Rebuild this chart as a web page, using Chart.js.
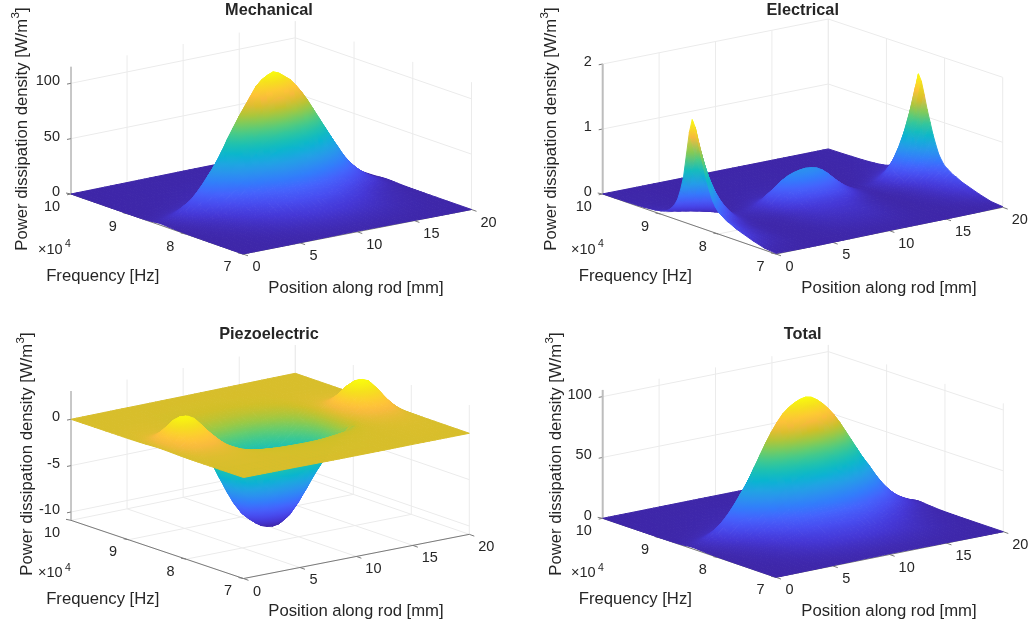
<!DOCTYPE html>
<html><head><meta charset="utf-8">
<style>html,body{margin:0;padding:0;background:#fff}canvas{position:absolute}</style>
<script src="https://cdn.jsdelivr.net/npm/chart.js@4"></script></head>
<body>
<script>
// ---------- data ----------
const positions = [0,.5,1,1.5,2,2.5,3,3.5,4,4.5,5,5.5,6,6.5,7,7.5,8,8.5,9,9.5,10,10.5,11,11.5,12,12.5,13,13.5,14,14.5,15,15.5,16,16.5,17,17.5,18,18.5,19,19.5,20];
const frequencies = [7,7.2,7.4,7.6,7.7,7.8,7.85,7.9,7.95,8,8.05,8.1,8.15,8.2,8.25,8.3,8.35,8.4,8.45,8.5,8.55,8.6,8.65,8.7,8.75,8.8,8.85,8.9,8.95,9,9.05,9.1,9.2,9.3,9.4,9.6,9.8,10];

const mechanicalAlongRod = [1.4,2.9,4.6,6.9,10,14,18,24,31,39,47,56,66,75,84,92,100,108,113,116,118,116,112,108,102,95,87,78,69,60,51,42,33,26,20,15,11,7.5,4.8,2.4,1.1];
const mechanicalResponse = [.005,.015,.035,.07,.09,.12,.14,.16,.18,.21,.25,.3,.37,.46,.57,.69,.82,.94,1,.88,.66,.44,.3,.2,.14,.1,.07,.05,.04,.03,.025,.02,.014,.01,.007,.004,.002,.001];

const electricalAlongRod = [1.62,1.2,.86,.6,.4,.25,.12,.06,.03,.03,.04,.06,.1,.17,.26,.33,.41,.46,.49,.51,.52,.51,.49,.44,.37,.28,.2,.13,.08,.04,.02,.02,.05,.08,.15,.25,.4,.6,.86,1.2,1.62];
const electricalResponse = [.006,.018,.05,.09,.11,.14,.15,.17,.19,.21,.25,.3,.38,.47,.58,.69,.82,.94,1,.87,.65,.43,.3,.2,.14,.1,.07,.05,.04,.03,.025,.02,.014,.01,.007,.004,.002,.001];

const piezoelectricDipAlongRod = [0,0,0,0,0,0,0,0,0,-.3,-1.9,-3.9,-5.4,-6.8,-8,-8.9,-9.5,-10,-10.4,-10.6,-10.7,-10.6,-10.2,-9.4,-8.3,-7.1,-6,-5,-3.9,-2.6,-1.2,-.2,0,0,0,0,0,0,0,0,0];
const piezoelectricDipResponse = [.002,.003,.005,.01,.015,.03,.04,.06,.1,.16,.27,.42,.57,.7,.8,.87,.93,.97,1,.99,.95,.88,.78,.66,.55,.45,.37,.3,.24,.18,.13,.1,.05,.03,.015,.005,.002,.001];
const piezoelectricBumpAlongRod = [.1,1.2,2.2,2.8,3,2.95,2.6,1.9,1.1,.4,.1,0,0,0,0,0,0,0,0,0,0,0,0,0,0,0,0,0,0,0,.05,.4,1.2,2.2,2.8,3.1,3.15,2.9,2.2,1.2,.1];
const piezoelectricBumpResponse = [0,.005,.01,.02,.03,.05,.07,.09,.12,.16,.22,.3,.4,.5,.62,.74,.85,.95,1,.97,.86,.7,.54,.4,.28,.2,.14,.1,.07,.05,.04,.03,.02,.012,.008,.003,.001,0];

const totalAlongRod = [1.3,2.7,4.5,7,10,14,19,25,32,40,48,57,66,75,83,90,96,100,103,105,106,105,102,98,93,87,80,72,64,56,48,41,33,26,20,15,11,8,5.5,3.5,2];
const totalResponse = [.006,.017,.04,.08,.1,.13,.15,.17,.2,.23,.27,.32,.39,.48,.59,.7,.83,.94,1,.89,.68,.46,.32,.22,.15,.11,.08,.06,.045,.035,.028,.022,.016,.011,.008,.004,.002,.001];

const positionTicks = [0,5,10,15,20];
const frequencyTicks = [7,8,9,10];
const frequencyTickLabels = ['7','8','9','10'];
const mechanicalZTicks = [0,50,100];
const electricalZTicks = [0,1,2];
const piezoelectricZTicks = [-10,-5,0];
const totalZTicks = [0,50,100];

// parula colour map stops
const parula = [[.2422,.1504,.6603],[.2706,.2147,.8364],[.2813,.3006,.9414],[.2699,.3892,.9906],[.1963,.4847,.9892],[.1687,.5703,.9359],[.1248,.6459,.8883],[.0297,.7082,.8163],[.0964,.75,.712],[.2161,.7843,.5923],[.3909,.8029,.4354],[.6174,.7876,.2612],[.8203,.7498,.1535],[.9728,.7298,.2394],[.997,.7659,.2199],[.9892,.8086,.1816],[.961,.8779,.1146],[.9763,.9831,.0538]];
const parulaAt = [0,4,8,12,16,20,24,28,32,36,40,44,48,52,54,56,59,63].map(i=>i/63);
function colour(t){
  t=Math.max(0,Math.min(1,t)); let i=0;
  while(i<parulaAt.length-2 && t>parulaAt[i+1]) i++;
  const a=(t-parulaAt[i])/(parulaAt[i+1]-parulaAt[i]);
  const c=parula[i].map((v,k)=>Math.round(255*(v+(parula[i+1][k]-v)*a)));
  return `rgb(${c[0]},${c[1]},${c[2]})`;
}

const W=516, H=314;
const panels = [
 {name:'Mechanical',ox:0,oy:0,parts:[[mechanicalAlongRod,mechanicalResponse]],zTicks:mechanicalZTicks,zMin:0,zTop:115,k:1.107,
  F:[243,254],R:[471.5,209.5],L:[71,194],B:[295.3,148.5],axisCol:'#9a9a9a',axisW:1,
  title:[269,10],fl:[102.7,275.7],pl:[356,287],zl:[21.7,129],e:[55,249]},
 {name:'Electrical',ox:515,oy:0,parts:[[electricalAlongRod,electricalResponse]],zTicks:electricalZTicks,zMin:0,zTop:2,k:65,
  F:[776,254],R:[1002.7,207.3],L:[602.7,194],B:[828.3,149],axisCol:'#bdbdbd',axisW:2,
  title:[802.7,10],fl:[635.3,275.7],pl:[889,287],zl:[550,129],e:[588,249]},
 {name:'Piezoelectric',ox:0,oy:314,parts:[[piezoelectricDipAlongRod,piezoelectricDipResponse],[piezoelectricBumpAlongRod,piezoelectricBumpResponse]],zTicks:piezoelectricZTicks,zMin:-10.9,zTop:3.05,k:9.27,
  F:[243.5,477.5],R:[469.3,433.3],L:[71,419.3],B:[295.3,373.3],axisCol:'#9a9a9a',axisW:1,
  title:[269,334],fl:[102.7,598.7],pl:[356,610.3],zl:[26,454],e:[55,572.7]},
 {name:'Total',ox:515,oy:314,parts:[[totalAlongRod,totalResponse]],zTicks:totalZTicks,zMin:0,zTop:105.5,k:1.217,
  F:[776,577.3],R:[1003.3,531.7],L:[602.7,518.3],B:[828.3,473.3],axisCol:'#bdbdbd',axisW:2,
  title:[802.7,334],fl:[635.3,598.7],pl:[889,610.3],zl:[555,454],e:[588,572.7]}
];

function projector(p){
  return (pos,fr,z)=>{
    const u=pos/20,v=(fr-7)/3;
    const x=(1-v)*((1-u)*p.F[0]+u*p.R[0])+v*((1-u)*p.L[0]+u*p.B[0]);
    const y=(1-v)*((1-u)*p.F[1]+u*p.R[1])+v*((1-u)*p.L[1]+u*p.B[1]);
    return {x:x-p.ox,y:y-p.oy-p.k*z};
  };
}
function seg(pts,col,w){return {data:pts,borderColor:col,borderWidth:w,fill:false,pointRadius:0,showLine:true,borderJoinStyle:'miter'};}

function textPlugin(p){return {id:'panelText',afterDraw(chart){
  const ctx=chart.ctx,xs=chart.scales.x,ys=chart.scales.y,proj=projector(p);
  const put=(pt)=>[xs.getPixelForValue(pt.x),ys.getPixelForValue(pt.y)];
  const tf='"Liberation Sans",Arial,sans-serif';
  ctx.save();ctx.fillStyle='#262626';ctx.textBaseline='middle';
  ctx.font='14.5px '+tf;ctx.textAlign='center';
  positionTicks.forEach(v=>{const [a,b]=put(proj(v,7,p.zMin));
    ctx.fillText(String(v),a+(v>=10?17:13.5),b+13);});
  frequencyTicks.forEach((v,i)=>{const [a,b]=put(proj(0,v,p.zMin));
    ctx.fillText(frequencyTickLabels[i],a-(v==10?19:15.5),b+12.5);});
  ctx.textAlign='right';
  p.zTicks.forEach(v=>{const [a,b]=put(proj(0,10,v));ctx.fillText(String(v),a-11,b-2);});
  // exponent
  const ex=p.e[0]-p.ox,ey=p.e[1]-p.oy;
  ctx.textAlign='left';ctx.fillText('\u00d710',ex-17,ey+.5);
  ctx.font='10.5px '+tf;ctx.fillText('4',ex+10,ey-4.5);
  // axis labels
  ctx.font='16.7px '+tf;ctx.textAlign='center';
  ctx.fillText('Frequency [Hz]',p.fl[0]-p.ox,p.fl[1]-p.oy+1);
  ctx.fillText('Position along rod [mm]',p.pl[0]-p.ox,p.pl[1]-p.oy+1);
  ctx.save();ctx.translate(p.zl[0]-p.ox+1,p.zl[1]-p.oy);ctx.rotate(-Math.PI/2);
  const s='Power dissipation density [W/m',w=ctx.measureText(s).width,w3=ctx.measureText(']').width;
  ctx.textAlign='left';const st=-(w+w3+7)/2;
  ctx.fillText(s,st,0);ctx.fillText(']',st+w+7,0);
  ctx.font='11.5px '+tf;ctx.fillText('3',st+w+.5,-6.5);
  ctx.restore();
  ctx.font='bold 16.3px '+tf;ctx.textAlign='center';
  ctx.fillText(p.name,p.title[0]-p.ox,p.title[1]-p.oy+1);
  ctx.restore();
}};}

panels.forEach(p=>{
  const c=document.createElement('canvas');
  c.width=W;c.height=H;c.style.left=p.ox+'px';c.style.top=p.oy+'px';
  document.body.appendChild(c);
  const g2=c.getContext('2d');
  const proj=projector(p);
  const zv=(i,j)=>p.parts.reduce((s,part)=>s+part[0][i]*part[1][j],0);
  const jPeak=frequencies.indexOf(8.45);
  const peakRow=positions.map((_,i)=>zv(i,jPeak));
  const zLow=Math.min(0,...peakRow), zHigh=Math.max(...peakRow);
  const tone=(z)=>(z-zLow)/(zHigh-zLow);
  const paint=(pts,zs)=>{
    // colour varies linearly over a cell: build the screen-space gradient of that variation
    const cs=zs.map(tone),lo=Math.min(...cs),hi=Math.max(...cs);
    const mean=cs.reduce((s,v)=>s+v,0)/4;
    if(hi-lo<.002) return colour(mean);
    const e1=[pts[1].x-pts[0].x,pts[1].y-pts[0].y],e2=[pts[3].x-pts[0].x,pts[3].y-pts[0].y];
    const d1=cs[1]-cs[0],d2=cs[3]-cs[0],det=e1[0]*e2[1]-e1[1]*e2[0];
    if(Math.abs(det)<.05) return colour(mean);
    const gx=(d1*e2[1]-d2*e1[1])/det,gy=(e1[0]*d2-e2[0]*d1)/det,n=gx*gx+gy*gy;
    if(n<1e-9) return colour(mean);
    const sx=pts[0].x+gx/n*(lo-cs[0]),sy=pts[0].y+gy/n*(lo-cs[0]);
    const ex=pts[0].x+gx/n*(hi-cs[0]),ey=pts[0].y+gy/n*(hi-cs[0]);
    if(![sx,sy,ex,ey].every(Number.isFinite)) return colour(mean);
    const gr=g2.createLinearGradient(sx,sy,ex,ey);
    gr.addColorStop(0,colour(lo));gr.addColorStop(.5,colour((lo+hi)/2));gr.addColorStop(1,colour(hi));
    return gr;
  };
  const ds=[];
  // surface, nearest cells first (the first dataset is painted last)
  for(let j=0;j<frequencies.length-1;j++){
    for(let i=0;i<positions.length-1;i++){
      const a=[[i,j],[i+1,j],[i+1,j+1],[i,j+1]];
      const zs=a.map(([q,r])=>zv(q,r));
      const pts=a.map(([q,r],n)=>proj(positions[q],frequencies[r],zs[n]));
      const col=paint(pts,zs);
      pts.push(pts[0]);
      ds.push({data:pts,borderColor:col,backgroundColor:col,borderWidth:1,fill:'shape',pointRadius:0,showLine:true,tension:0,borderJoinStyle:'round'});
    }
  }
  // axes
  const axis='#7a7a7a';
  ds.push(seg([proj(0,7,p.zMin),proj(20,7,p.zMin)],axis,1));
  ds.push(seg([proj(0,10,p.zMin),proj(0,7,p.zMin)],axis,1));
  ds.push(seg([proj(0,10,p.zMin),proj(0,10,p.zTop)],p.axisCol,p.axisW));
  positionTicks.forEach(v=>{const a=proj(v,7,p.zMin);ds.push(seg([a,{x:a.x+5,y:a.y+1.8}],axis,1));});
  frequencyTicks.forEach(v=>{const a=proj(0,v,p.zMin);ds.push(seg([a,{x:a.x-5,y:a.y-1}],axis,1));});
  p.zTicks.forEach(v=>{const a=proj(0,10,v);ds.push(seg([a,{x:a.x-4,y:a.y+.8}],axis,1));});
  // grid
  const grid='#ebebeb';
  positionTicks.forEach(v=>{
    ds.push(seg([proj(v,10,p.zMin),proj(v,10,p.zTop)],grid,1));
    ds.push(seg([proj(v,7,p.zMin),proj(v,10,p.zMin)],grid,1));
  });
  frequencyTicks.forEach(v=>{
    ds.push(seg([proj(20,v,p.zMin),proj(20,v,p.zTop)],grid,1));
    ds.push(seg([proj(0,v,p.zMin),proj(20,v,p.zMin)],grid,1));
  });
  p.zTicks.forEach(v=>{
    ds.push(seg([proj(0,10,v),proj(20,10,v),proj(20,7,v)],grid,1));
  });
  new Chart(c,{type:'scatter',data:{datasets:ds},plugins:[textPlugin(p)],options:{
    responsive:false,animation:false,events:[],
    layout:{padding:0},
    datasets:{scatter:{clip:false}},
    plugins:{legend:{display:false},tooltip:{enabled:false},title:{display:false}},
    scales:{x:{type:'linear',min:0,max:W,display:false},y:{type:'linear',min:0,max:H,reverse:true,display:false}}
  }});
});
</script>
</body></html>
